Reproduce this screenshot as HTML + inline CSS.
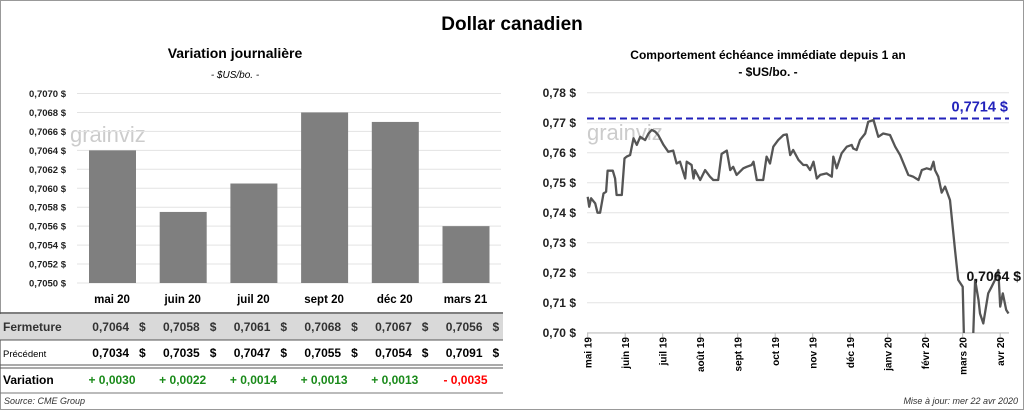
<!DOCTYPE html>
<html><head><meta charset="utf-8"><style>
body{margin:0;background:#fff}
svg{display:block;font-family:"Liberation Sans",sans-serif}
</style></head><body>
<svg id="s" width="1024" height="410" viewBox="0 0 1024 410">
<rect x="0.5" y="0.5" width="1023" height="409" fill="#fff" stroke="#999"/>
<text x="512" y="30" text-anchor="middle" font-size="19" font-weight="bold">Dollar canadien</text>
<text x="235" y="58" text-anchor="middle" font-size="14" font-weight="bold">Variation  journalière</text>
<text x="235" y="78" text-anchor="middle" font-size="10" font-style="italic">- $US/bo. -</text>
<text x="768" y="59" text-anchor="middle" font-size="12" font-weight="bold">Comportement échéance immédiate depuis 1 an</text>
<text x="768" y="76" text-anchor="middle" font-size="12" font-weight="bold">- $US/bo. -</text>
<text x="70" y="142" font-size="22" fill="#ccc">grainviz</text>
<text x="587" y="140" font-size="22" fill="#ccc">grainviz</text>
<g id="left"></g><g id="right"></g><g id="table"></g>
<text x="4" y="404" font-size="9" font-style="italic" fill="#333">Source: CME Group</text>
<text x="1018" y="404" text-anchor="end" font-size="9" font-style="italic" fill="#333">Mise à jour: mer 22 avr 2020</text>
</svg>
<script>
const barCats=["mai 20","juin 20","juil 20","sept 20","déc 20","mars 21"];
const barVals=[0.7064,0.70575,0.70605,0.7068,0.7067,0.7056];
const barTicks=[0.7050,0.7052,0.7054,0.7056,0.7058,0.7060,0.7062,0.7064,0.7066,0.7068,0.7070];
const closeVals=["0,7064","0,7058","0,7061","0,7068","0,7067","0,7056"];
const prevVals=["0,7034","0,7035","0,7047","0,7055","0,7054","0,7091"];
const varVals=["+ 0,0030","+ 0,0022","+ 0,0014","+ 0,0013","+ 0,0013","- 0,0035"];
const lineMonths=["mai 19","juin 19","juil 19","août 19","sept 19","oct 19","nov 19","déc 19","janv 20","févr 20","mars 20","avr 20"];
const lineTicks=[0.70,0.71,0.72,0.73,0.74,0.75,0.76,0.77,0.78];
const lineX=[0,.04,.09,.20,.26,.33,.42,.49,.53,.67,.73,.77,.91,.98,1.04,1.13,1.22,1.31,1.40,1.53,1.62,1.71,1.80,1.88,2.02,2.15,2.28,2.37,2.46,2.60,2.64,2.77,2.82,2.86,3.00,3.13,3.26,3.35,3.48,3.57,3.71,3.80,3.88,3.97,4.15,4.24,4.37,4.42,4.51,4.68,4.77,4.86,4.95,5.08,5.22,5.31,5.40,5.48,5.62,5.75,5.84,5.93,6.02,6.11,6.20,6.37,6.51,6.55,6.64,6.77,6.91,7.04,7.08,7.17,7.26,7.40,7.48,7.62,7.75,7.88,8.06,8.20,8.33,8.55,8.68,8.82,8.91,9.04,9.15,9.22,9.26,9.35,9.44,9.53,9.66,9.80,9.88,10.0,10.04,10.27,10.33,10.42,10.46,10.55,10.68,10.77,10.86,10.95,11.0,11.07,11.16,11.22];
const lineY=[.7453,.7420,.7448,.7431,.7400,.7400,.7464,.7470,.7540,.7540,.7514,.7459,.7459,.7581,.7587,.7592,.7648,.7626,.7653,.7642,.7664,.7676,.7670,.7659,.7626,.7603,.7607,.7564,.7570,.7514,.7570,.7559,.7514,.7542,.7509,.7542,.7520,.7509,.7509,.7596,.7607,.7542,.7553,.7526,.7548,.7553,.7559,.7570,.7509,.7509,.7587,.7564,.7620,.7642,.7659,.7661,.7592,.7609,.7576,.7559,.7559,.7542,.7570,.7514,.7526,.7531,.7520,.7587,.7548,.7598,.7620,.7626,.7614,.7609,.7642,.7664,.7703,.7709,.7653,.7664,.7659,.7620,.7592,.7526,.7520,.7509,.7542,.7548,.7544,.7570,.7542,.7520,.7467,.7487,.7442,.7270,.7176,.7153,.695,.695,.7176,.7109,.7064,.7031,.7131,.7153,.7176,.7209,.7087,.7131,.7076,.7064];
const maxVal=0.7714, lastVal=0.7064;
const NS="http://www.w3.org/2000/svg";
function mk(p,t,a,txt){const e=document.createElementNS(NS,t);for(const k in a)e.setAttribute(k,a[k]);if(txt!==undefined)e.textContent=txt;p.appendChild(e);return e;}
const fmt=(v,d)=>v.toFixed(d).replace('.',',');
// left chart
const L=document.getElementById('left');
const ly=v=>283-(v-0.7050)/0.0020*189.5;
const bandW=70.7,bx0=77;
barTicks.forEach(t=>{
 const g=mk(L,'line',{x1:77,x2:501,y1:ly(t),y2:ly(t),stroke:'#e3e3e3'});
 
 
 const tx=mk(L,'text',{x:66,y:ly(t)+3.5,'text-anchor':'end','font-size':9.5,'font-weight':'bold',fill:'#222'},fmt(t,4)+' $');
 
 
});
barVals.forEach((v,i)=>{
 const r=mk(L,'rect',{x:bx0+i*bandW+12,y:ly(v),width:47,height:283-ly(v),fill:'#7f7f7f'});
 
 
});
// table
const T=document.getElementById('table');
mk(T,'rect',{x:0,y:314,width:503,height:26,fill:'#d9d9d9'});
mk(T,'line',{x1:0,x2:503,y1:313,y2:313,stroke:'#555','stroke-width':1.5});
mk(T,'line',{x1:0,x2:503,y1:340,y2:340,stroke:'#555','stroke-width':1});
mk(T,'line',{x1:0,x2:503,y1:365,y2:365,stroke:'#555','stroke-width':1});
mk(T,'line',{x1:0,x2:503,y1:368,y2:368,stroke:'#555','stroke-width':1});
mk(T,'line',{x1:0,x2:503,y1:393,y2:393,stroke:'#777','stroke-width':1});
const rl=[['Fermeture',331,12],['Précédent',357,9.5],['Variation',384,12]];
rl.forEach((r,i)=>{const t=mk(T,'text',{x:3,y:r[1],'font-size':r[2],'font-weight':i==1?'normal':'bold',fill:i==0?'#333':'#000'},r[0]);
 
 });
barCats.forEach((c,i)=>{
 const cx=bx0+i*bandW+35;
 const h=mk(T,'text',{x:cx,y:303,'text-anchor':'middle','font-size':11.5,'font-weight':'bold'},c);
 
 
 [[closeVals[i],331,'#333'],[prevVals[i],357,'#000']].forEach(a=>{
  const t=mk(T,'text',{x:cx+17,y:a[1],'text-anchor':'end','font-size':12,'font-weight':'bold',fill:a[2]},a[0]);
  
  
  mk(T,'text',{x:cx+27,y:a[1],'font-size':12,'font-weight':'bold',fill:a[2]},'$');
 });
 const neg=varVals[i].startsWith('-');
 const v=mk(T,'text',{x:cx,y:384,'text-anchor':'middle','font-size':12,'font-weight':'bold',fill:neg?'#f00':'#1a8a1a'},varVals[i]);
 
 
});
// right chart
const R=document.getElementById('right');
const X0=587.7,MW=37.5;
const rx=m=>X0+m*MW, ry=v=>332.7-(v-0.70)*3000;
lineTicks.forEach(t=>{
 const g=mk(R,'line',{x1:587,x2:1009,y1:ry(t),y2:ry(t),stroke:'#e3e3e3'});
 
 
 const tx=mk(R,'text',{x:576,y:ry(t)+4.5,'text-anchor':'end','font-size':12,'font-weight':'bold',fill:'#222'},fmt(t,2)+' $');
 
 
});
mk(R,'line',{x1:587,x2:1009,y1:333,y2:333,stroke:'#bbb'});
lineMonths.forEach((m,i)=>{
 const x=rx(i);
 mk(R,'line',{x1:x,x2:x,y1:333,y2:337,stroke:'#bbb'});
 const t=mk(R,'text',{x:0,y:0,transform:`translate(${x+4},337) rotate(-90)`,'text-anchor':'end','font-size':10,'font-weight':'bold'},m);
 
 
});
mk(R,'clipPath',{id:'cp'}).appendChild(document.createElementNS(NS,'rect'));
const cr=document.querySelector('#cp rect');cr.setAttribute('x',585);cr.setAttribute('y',85);cr.setAttribute('width',430);cr.setAttribute('height',248);
const mx=mk(R,'line',{x1:587,x2:1009,y1:ry(maxVal),y2:ry(maxVal),stroke:'#2222bb','stroke-width':2,'stroke-dasharray':'7,4'});


const ml=mk(R,'text',{x:1008,y:ry(maxVal)-7,'text-anchor':'end','font-size':14.5,'font-weight':'bold',fill:'#2222bb'},fmt(maxVal,4)+' $');


const d=lineX.map((m,i)=>(i?'L':'M')+rx(m).toFixed(1)+','+ry(lineY[i]).toFixed(1)).join(' ');
const p=mk(R,'path',{d:d,fill:'none',stroke:'#555','stroke-width':2.3,'stroke-linejoin':'round','clip-path':'url(#cp)'});


const lv=mk(R,'text',{x:1021,y:281,'text-anchor':'end','font-size':14,'font-weight':'bold',fill:'#111'},fmt(lastVal,4)+' $');


</script>
</body></html>
